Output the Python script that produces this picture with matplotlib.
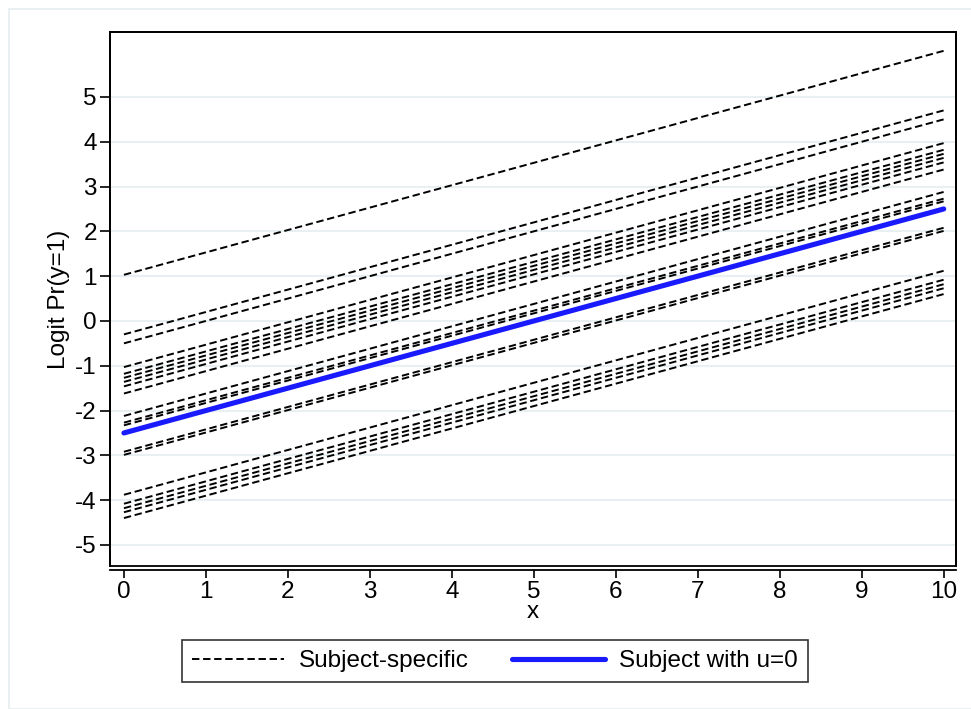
import matplotlib
matplotlib.use("Agg")
import matplotlib.pyplot as plt
import numpy as np
from matplotlib.patches import Rectangle

plt.rcParams['font.family'] = ['Liberation Sans', 'DejaVu Sans']
plt.rcParams['axes.unicode_minus'] = False

# data
x_values = np.arange(0, 11)
slope = 0.5
subject_intercepts = [1.03, -0.30, -0.50,
                      -1.03, -1.18, -1.27, -1.36, -1.46, -1.62,
                      -2.12, -2.27, -2.33,
                      -2.92, -2.99,
                      -3.88, -4.08, -4.18, -4.27, -4.40]
reference_intercept = -2.5
y_ticks = list(range(-5, 6))
x_ticks = list(range(0, 11))

FS = 17.5
fig = plt.figure(figsize=(9.71, 7.09), dpi=100)
ax = fig.add_axes([110/971, 1-566/709, (956-110)/971, (566-32)/709])

# outer light border of graph region
fig.patches.append(Rectangle((9/971, 0), 1, 1-9/709, transform=fig.transFigure,
                             fill=False, edgecolor='#e6eef0', linewidth=1.2))

for b in subject_intercepts:
    ax.plot(x_values, b + slope * x_values, color='black', linewidth=1.4,
            dashes=(3.8, 1.9), zorder=2)
ax.plot(x_values, reference_intercept + slope * x_values, color='#1a1aff',
        linewidth=3.7, solid_capstyle='round', zorder=3)

ax.set_xlim(-0.17, 10.15)
ax.set_ylim(-5.47, 6.45)
ax.set_yticks(y_ticks)
ax.set_xticks(x_ticks)
ax.yaxis.grid(True, color='#e8f0f2', linewidth=1.5, zorder=0)
ax.set_axisbelow(True)

ax.tick_params(axis='both', labelsize=FS, width=1.2, direction='out', colors='black')
ax.tick_params(axis='x', length=6, pad=1.5)
ax.tick_params(axis='y', length=7, pad=2.5)

for s in ['top', 'right', 'left']:
    ax.spines[s].set_linewidth(1.3)
ax.spines['bottom'].set_position(('outward', 3))
ax.spines['bottom'].set_linewidth(1.3)
ax.add_patch(Rectangle((0, 0), 1, 1, transform=ax.transAxes, fill=False,
                       edgecolor='black', linewidth=1.3, zorder=5, clip_on=False))

ax.set_xlabel('x', fontsize=FS, labelpad=-1)
ax.set_ylabel('Logit Pr(y=1)', fontsize=FS, labelpad=4)

handles = [plt.Line2D([], [], color='black', linewidth=1.4, dashes=(3.8, 1.9)),
           plt.Line2D([], [], color='#1a1aff', linewidth=3.7, solid_capstyle='round')]
leg = fig.legend(handles, ['Subject-specific', 'Subject with u=0'], ncol=2,
                 loc='center', bbox_to_anchor=(495/971, 1-661/709),
                 fontsize=FS, frameon=True, fancybox=False, edgecolor='black',
                 handlelength=3.8, columnspacing=1.8, handletextpad=0.6,
                 borderpad=0.4, borderaxespad=0)
leg.get_frame().set_linewidth(1.2)

fig.savefig('out.png', dpi=100, facecolor='white')
